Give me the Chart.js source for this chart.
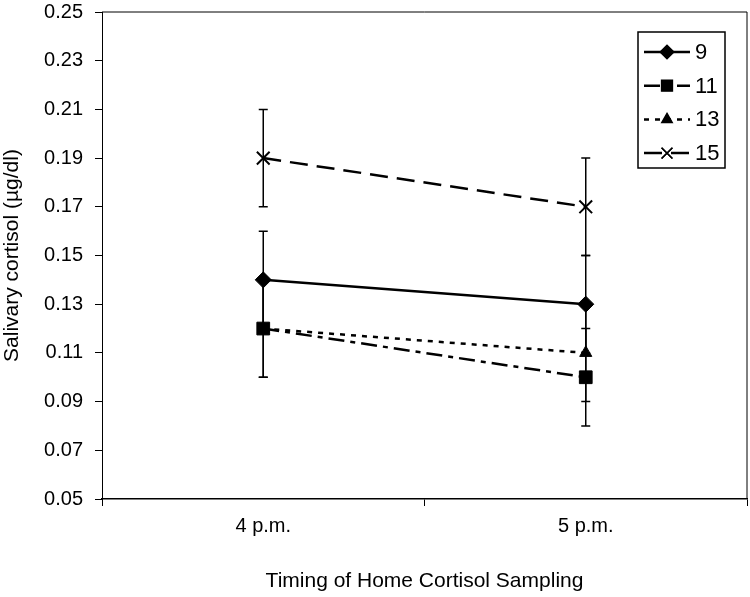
<!DOCTYPE html>
<html>
<head>
<meta charset="utf-8">
<script src="https://cdn.jsdelivr.net/npm/chart.js@4"></script>
<style>
  html, body { margin: 0; padding: 0; background: #fff; }
  #wrap { width: 750px; height: 597px; }
</style>
</head>
<body>
<div id="wrap"><canvas id="cortisolChart" width="750" height="597"></canvas></div>
<script>
// sampling times and age groups
const timeLabels = ['4 p.m.', '5 p.m.'];
const ageGroups = ['9', '11', '13', '15'];

// mean salivary cortisol (µg/dl) per age group
const age9 = [0.14, 0.13];
const age11 = [0.12, 0.10];
const age13 = [0.12, 0.11];
const age15 = [0.19, 0.17];

// error bar half-widths
const err9 = [0.02, 0.02];
const err11 = [0.02, 0.02];
const err13 = [0.02, 0.02];
const err15 = [0.02, 0.02];

const yTicks = [0.05, 0.07, 0.09, 0.11, 0.13, 0.15, 0.17, 0.19, 0.21, 0.23, 0.25];

const FONT = '"Liberation Sans", Arial, sans-serif';

function makeSet(label, data, errs, pointStyle, dash, radius) {
    return {
        label,
        data,
        errs,
        borderColor: '#000',
        backgroundColor: '#000',
        borderWidth: 2.5,
        borderDash: dash,
        pointStyle,
        pointRadius: radius,
        pointBorderWidth: pointStyle === 'crossRot' ? 2 : 1,
        pointBorderColor: '#000',
        pointBackgroundColor: '#000',
        tension: 0,
        fill: false
    };
}

// error bars drawn under the markers
const errorBars = {
    id: 'errorBars',
    beforeDatasetsDraw(chart) {
        const { ctx, scales: { x, y } } = chart;
        ctx.save();
        ctx.strokeStyle = '#000';
        ctx.lineWidth = 1.5;
        chart.data.datasets.forEach(ds => {
            ds.data.forEach((v, i) => {
                const px = x.getPixelForValue(i);
                const top = y.getPixelForValue(v + ds.errs[i]);
                const bot = y.getPixelForValue(v - ds.errs[i]);
                ctx.beginPath();
                ctx.moveTo(px, top); ctx.lineTo(px, bot);
                ctx.moveTo(px - 4.5, top); ctx.lineTo(px + 4.5, top);
                ctx.moveTo(px - 4.5, bot); ctx.lineTo(px + 4.5, bot);
                ctx.stroke();
            });
        });
        ctx.restore();
    }
};

// plot frame and boxed legend
const frameAndLegend = {
    id: 'frameAndLegend',
    afterDraw(chart) {
        const { ctx, chartArea: a } = chart;
        ctx.save();
        ctx.strokeStyle = '#000';
        ctx.lineWidth = 1;
        ctx.beginPath();
        ctx.moveTo(a.left, a.top); ctx.lineTo(a.right, a.top); ctx.lineTo(a.right, a.bottom);
        ctx.stroke();

        // legend box
        const bx = 638, by = 32, bw = 87, bh = 136;
        ctx.lineWidth = 1.5;
        ctx.strokeRect(bx, by, bw, bh);
        ctx.font = '22px ' + FONT;
        ctx.textBaseline = 'middle';
        ctx.fillStyle = '#000';
        chart.data.datasets.forEach((ds, i) => {
            const ly = 52 + i * 33.7;
            ctx.save();
            ctx.lineWidth = 2.5;
            ctx.setLineDash(ds.borderDash);
            ctx.beginPath();
            ctx.moveTo(644, ly); ctx.lineTo(690, ly);
            ctx.stroke();
            ctx.restore();
            Chart.helpers.drawPoint(ctx, {
                pointStyle: ds.pointStyle,
                radius: ds.pointRadius * 0.85,
                borderWidth: ds.pointBorderWidth
            }, 667, ly);
            if (ds.pointStyle === 'crossRot') ctx.stroke(); else { ctx.fill(); }
            ctx.fillText(ds.label, 695, ly + 1);
        });
        ctx.restore();
    }
};

new Chart(document.getElementById('cortisolChart').getContext('2d'), {
    type: 'line',
    data: {
        labels: timeLabels,
        datasets: [
            makeSet(ageGroups[0], age9, err9, 'rectRot', [], 8),
            makeSet(ageGroups[1], age11, err11, 'rect', [16, 6, 5, 6], 9),
            makeSet(ageGroups[2], age13, err13, 'triangle', [5, 6], 7),
            makeSet(ageGroups[3], age15, err15, 'crossRot', [18, 9], 9)
        ]
    },
    options: {
        responsive: false,
        animation: false,
        layout: { autoPadding: false, padding: { left: 0, top: 12, right: 3, bottom: 0 } },
        plugins: {
            legend: { display: false },
            tooltip: { enabled: false }
        },
        scales: {
            x: {
                offset: true,
                grid: { offset: true, drawOnChartArea: false, tickLength: 7, color: '#000', lineWidth: 1 },
                border: { color: '#000', width: 1.5 },
                ticks: { color: '#000', padding: 8, font: { family: FONT, size: 20 } },
                title: {
                    display: true,
                    text: 'Timing of Home Cortisol Sampling',
                    color: '#000',
                    font: { family: FONT, size: 21 },
                    padding: { top: 0, bottom: 3 }
                },
                afterFit(scale) {
                    scale.height = 98;
                    scale.paddingLeft = 0;
                    scale.paddingRight = 0;
                }
            },
            y: {
                min: 0.05,
                max: 0.25,
                afterBuildTicks(scale) { scale.ticks = yTicks.map(v => ({ value: v })); },
                grid: { drawOnChartArea: false, tickLength: 7, color: '#000', lineWidth: 1 },
                border: { color: '#000', width: 1 },
                ticks: {
                    color: '#000',
                    padding: 12,
                    font: { family: FONT, size: 20 },
                    callback: v => v.toFixed(2)
                },
                title: {
                    display: true,
                    text: 'Salivary cortisol (µg/dl)',
                    color: '#000',
                    font: { family: FONT, size: 21 },
                    padding: { top: 0, bottom: 0 }
                },
                afterFit(scale) {
                    scale.width = 102;
                    scale.paddingTop = 0;
                    scale.paddingBottom = 0;
                }
            }
        }
    },
    plugins: [errorBars, frameAndLegend]
});
</script>
</body>
</html>
